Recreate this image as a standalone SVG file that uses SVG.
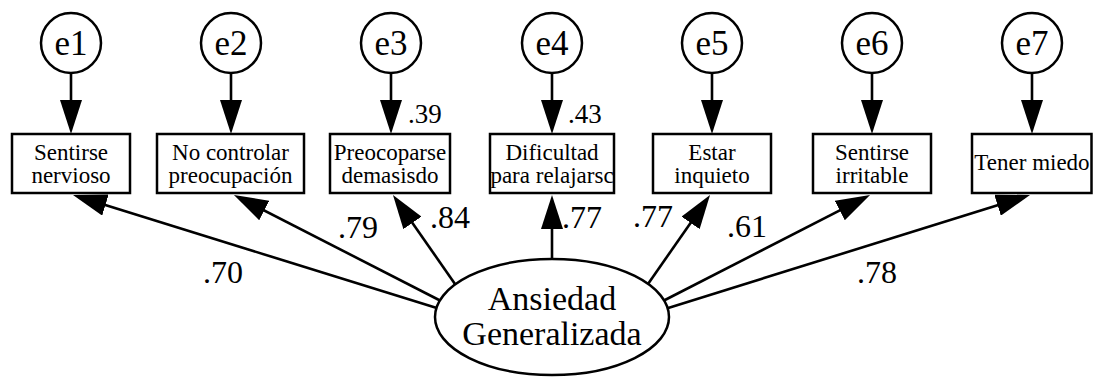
<svg xmlns="http://www.w3.org/2000/svg" width="1093" height="377" viewBox="0 0 1093 377">
<style>
.box{fill:#fff;stroke:#000;stroke-width:2.5}
.err{fill:#fff;stroke:#000;stroke-width:2.5}
.lat{fill:#fff;stroke:#000;stroke-width:2.5}
.bt{font-family:"Liberation Serif","Times New Roman",serif;font-size:23px;text-anchor:middle;fill:#000}
.et{font-family:"Liberation Serif","Times New Roman",serif;font-size:35px;text-anchor:middle;fill:#000}
.lt{font-family:"Liberation Serif","Times New Roman",serif;font-size:34px;text-anchor:middle;fill:#000}
.w{font-family:"Liberation Serif","Times New Roman",serif;font-size:32px;fill:#000}
.r{font-family:"Liberation Serif","Times New Roman",serif;font-size:27px;fill:#000}
.c{stroke:#000;stroke-width:2.6;fill:none;marker-end:url(#ah)}
</style>
<defs>
<marker id="ah" markerUnits="userSpaceOnUse" markerWidth="34" markerHeight="22" viewBox="0 0 34 22" refX="28" refY="11" orient="auto"><path d="M0,0 L34,11 L0,22 z" fill="#000"/></marker>
</defs>
<rect width="1093" height="377" fill="#fff"/>
<g id="connectors">
<line class="c" x1="71" y1="73" x2="71" y2="128"/>
<line class="c" x1="231" y1="73" x2="231" y2="128"/>
<line class="c" x1="391" y1="73" x2="391" y2="128"/>
<line class="c" x1="552" y1="73" x2="552" y2="128"/>
<line class="c" x1="712" y1="73" x2="712" y2="128"/>
<line class="c" x1="872" y1="73" x2="872" y2="128"/>
<line class="c" x1="1032" y1="73" x2="1032" y2="128"/>
<line class="c" x1="440" y1="309" x2="78.7" y2="196.8"/>
<line class="c" x1="441" y1="301" x2="239.3" y2="197.7"/>
<line class="c" x1="455" y1="284" x2="396.4" y2="199.9"/>
<line class="c" x1="552" y1="258" x2="552" y2="201"/>
<line class="c" x1="648" y1="284" x2="706.6" y2="199.9"/>
<line class="c" x1="663" y1="301" x2="864.7" y2="197.7"/>
<line class="c" x1="665" y1="309" x2="1024.3" y2="196.8"/>
<text class="w" x="203" y="283">.70</text>
<text class="w" x="338" y="238">.79</text>
<text class="w" x="430" y="228">.84</text>
<text class="w" x="562" y="228">.77</text>
<text class="w" x="633" y="227">.77</text>
<text class="w" x="727" y="237">.61</text>
<text class="w" x="857" y="283">.78</text>
<text class="r" x="408" y="123">.39</text>
<text class="r" x="568" y="123">.43</text>
</g>
<g id="e1"><circle class="err" cx="71" cy="43" r="30"/><text class="et" x="71" y="55">e1</text></g>
<g id="e2"><circle class="err" cx="231" cy="43" r="30"/><text class="et" x="231" y="55">e2</text></g>
<g id="e3"><circle class="err" cx="391" cy="43" r="30"/><text class="et" x="391" y="55">e3</text></g>
<g id="e4"><circle class="err" cx="552" cy="43" r="30"/><text class="et" x="552" y="55">e4</text></g>
<g id="e5"><circle class="err" cx="712" cy="43" r="30"/><text class="et" x="712" y="55">e5</text></g>
<g id="e6"><circle class="err" cx="872" cy="43" r="30"/><text class="et" x="872" y="55">e6</text></g>
<g id="e7"><circle class="err" cx="1032" cy="43" r="30"/><text class="et" x="1032" y="55">e7</text></g>
<g id="v1"><rect class="box" x="12" y="134" width="118" height="59"/><text class="bt" x="71" y="160">Sentirse</text><text class="bt" x="71" y="183">nervioso</text></g>
<g id="v2"><rect class="box" x="157" y="134" width="147" height="59"/><text class="bt" x="230.5" y="160">No controlar</text><text class="bt" x="230.5" y="183">preocupación</text></g>
<g id="v3"><rect class="box" x="330" y="134" width="120" height="59"/><text class="bt" x="390" y="160">Preocoparse</text><text class="bt" x="390" y="183">demasisdo</text></g>
<g id="v4"><rect class="box" x="490" y="134" width="124" height="59"/><text class="bt" x="552" y="160">Dificultad</text><text class="bt" x="552" y="183">para relajarsc</text></g>
<g id="v5"><rect class="box" x="653" y="134" width="118" height="59"/><text class="bt" x="712" y="160">Estar</text><text class="bt" x="712" y="183">inquieto</text></g>
<g id="v6"><rect class="box" x="813" y="134" width="118" height="59"/><text class="bt" x="872" y="160">Sentirse</text><text class="bt" x="872" y="183">irritable</text></g>
<g id="v7"><rect class="box" x="972" y="134" width="119.5" height="59"/><text class="bt" x="1032" y="170">Tener miedo</text></g>
<g id="latent"><ellipse class="lat" cx="552" cy="317" rx="117" ry="58"/><text class="lt" x="552" y="310">Ansiedad</text><text class="lt" x="552" y="345">Generalizada</text></g>
</svg>
